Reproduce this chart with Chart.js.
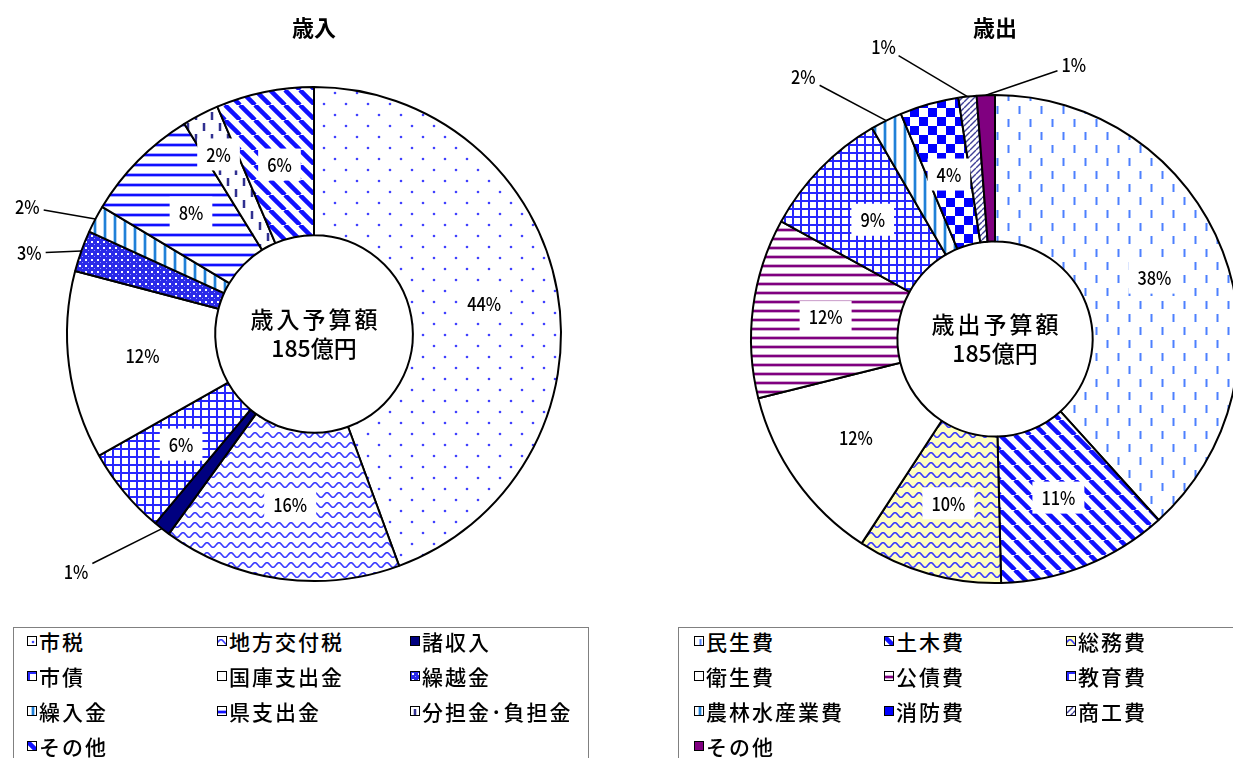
<!DOCTYPE html>
<html lang="ja">
<head>
<meta charset="utf-8">
<title>歳入・歳出</title>
<script src="https://cdn.jsdelivr.net/npm/chart.js@4.4.1/dist/chart.umd.min.js"></script>
<style>
  html, body { margin: 0; padding: 0; background: #fff; overflow: hidden; width: 1233px; height: 758px; }
  body { position: relative; font-family: "Noto Sans CJK JP", sans-serif; color: #000; }
  canvas.chart { position: absolute; top: 0; }
  #incomeChart { left: 0; }
  #expenseChart { left: 640px; }
  .legendBox { position: absolute; top: 627px; height: 200px; border: 1px solid #808080; box-sizing: border-box; }
  .legend { position: absolute; top: 623px; display: grid; grid-auto-rows: 35px; font-size: 21px; font-weight: 500; letter-spacing: 2px; }
  .legend div { display: flex; align-items: center; white-space: nowrap; }
  .legend canvas { width: 8px; height: 8px; border: 1.5px solid #000; margin-right: 2px; }
</style>
</head>
<body>
<canvas id="incomeChart" class="chart" width="630" height="610"></canvas>
<canvas id="expenseChart" class="chart" width="710" height="610"></canvas>
<div class="legendBox" style="left:13px;width:576px"></div>
<div class="legend" id="incomeLegend" style="left:27px;grid-template-columns:190px 193px auto"></div>
<div class="legendBox" style="left:678px;width:600px"></div>
<div class="legend" id="expenseLegend" style="left:694px;grid-template-columns:190px 182px auto"></div>
<script>
// budget totals (億円) and titles
var budgetTotal = 185;
var incomeTitle = '歳入';
var expenseTitle = '歳出';

// 歳入 shares (%), clockwise from 12 o'clock
var incomeLabels = ['市税', '地方交付税', '諸収入', '市債', '国庫支出金', '繰越金', '繰入金', '県支出金', '分担金･負担金', 'その他'];
var incomeShares = [44.4, 15.6, 1.1, 5.7, 12.3, 2.7, 1.8, 7.6, 2.4, 6.4];

// 歳出 shares (%)
var expenseLabels = ['民生費', '土木費', '総務費', '衛生費', '公債費', '教育費', '農林水産業費', '消防費', '商工費', 'その他'];
var expenseShares = [38.3, 11.3, 9.6, 11.9, 11.9, 8.6, 2.1, 3.9, 1.2, 1.2];

var labelFont = '500 19px "Noto Sans CJK JP", sans-serif';
var centerFont = '500 23px "Noto Sans CJK JP", sans-serif';
Chart.defaults.font.family = '"Noto Sans CJK JP", sans-serif';
Chart.defaults.color = '#000';

// small tiles for the hatched fills (Excel-like patterns)
function tile(w, h, draw) {
    var c = document.createElement('canvas');
    c.width = w; c.height = h;
    var g = c.getContext('2d');
    g.fillStyle = '#fff';
    g.fillRect(0, 0, w, h);
    draw(g, w, h);
    return g.createPattern(c, 'repeat');
}

function wave(bg) {
    return tile(12, 10, function (g, w, h) {
        g.fillStyle = bg; g.fillRect(0, 0, w, h);
        g.strokeStyle = '#3a3aff'; g.lineWidth = 1.6;
        g.beginPath();
        for (var x = -1; x <= 13; x += 0.5) {
            var y = 5 - 2.3 * Math.sin(2 * Math.PI * x / 12);
            if (x === -1) g.moveTo(x, y); else g.lineTo(x, y);
        }
        g.stroke();
    });
}

// vertical dashes, two staggered columns per tile
function dashes(w, h, len, color, lw) {
    return tile(w, h, function (g) {
        g.fillStyle = color;
        [[w / 4, 2], [w * 3 / 4, 2 + h / 2]].forEach(function (d) {
            g.fillRect(d[0] - lw / 2, d[1], lw, len);
            g.fillRect(d[0] - lw / 2, d[1] - h, lw, len);
        });
    });
}

var fills = {
    dots: tile(22, 22, function (g) {
        g.fillStyle = '#4040ff';
        [[5, 5], [16, 16]].forEach(function (p) {
            g.beginPath(); g.arc(p[0], p[1], 1.3, 0, Math.PI * 2); g.fill();
        });
    }),
    wave: wave('#fff'),
    waveYellow: wave('#ffffc0'),
    grid: tile(8, 8, function (g) {
        g.fillStyle = '#2828ff';
        g.fillRect(0, 0, 8, 2); g.fillRect(0, 0, 2, 8);
    }),
    plaid: tile(6, 6, function (g) {
        g.fillStyle = '#2a2ae8'; g.fillRect(0, 0, 6, 6);
        g.fillStyle = '#ffffff'; g.fillRect(1, 1, 2, 2);
        g.fillStyle = '#9a9aff'; g.fillRect(4, 4, 1, 1);
    }),
    vstripe: tile(10, 10, function (g) {
        g.fillStyle = '#b0d4f4'; g.fillRect(3, 0, 4, 10);
        g.fillStyle = '#2080d8'; g.fillRect(4, 0, 2, 10);
    }),
    hstripe: tile(10, 10, function (g) {
        g.fillStyle = '#a8a8ff'; g.fillRect(0, 3, 10, 4);
        g.fillStyle = '#1010ff'; g.fillRect(0, 4, 10, 2);
    }),
    purpleStripe: tile(9, 9, function (g) {
        g.fillStyle = '#d0a8d0'; g.fillRect(0, 3, 9, 4);
        g.fillStyle = '#800080'; g.fillRect(0, 4, 9, 2);
    }),
    vdash: dashes(16, 22, 8, '#303090', 2.5),
    dashes: dashes(22, 26, 8, '#4d80ff', 2),
    diag: tile(15, 15, function (g) {
        g.strokeStyle = '#1010ff'; g.lineWidth = 4.5;
        [-15, 0, 15].forEach(function (o) {
            g.beginPath(); g.moveTo(o, 0); g.lineTo(o + 15, 15); g.stroke();
        });
    }),
    checker: tile(18, 18, function (g) {
        g.fillStyle = '#0000ff';
        g.fillRect(0, 0, 9, 9); g.fillRect(9, 9, 9, 9);
    }),
    hatch: tile(6, 6, function (g) {
        g.strokeStyle = '#404098'; g.lineWidth = 1.4;
        [-6, 0, 6].forEach(function (o) {
            g.beginPath(); g.moveTo(o, 6); g.lineTo(o + 6, 0); g.stroke();
        });
    })
};

var incomeFills = [fills.dots, fills.wave, '#000080', fills.grid, '#ffffff', fills.plaid, fills.vstripe, fills.hstripe, fills.vdash, fills.diag];
var expenseFills = [fills.dashes, fills.diag, fills.waveYellow, '#ffffff', fills.purpleStripe, fills.grid, fills.vstripe, fills.checker, fills.hatch, '#800080'];

// narrow percentage text, like the original's gothic digits
function narrowText(ctx, text, x, y) {
    ctx.save();
    ctx.translate(x, y);
    ctx.scale(0.86, 1);
    ctx.fillText(text, 0, 0);
    ctx.restore();
}

// percentage labels, leader lines and centre text
function sliceLabels(cfg) {
    return {
        id: 'sliceLabels',
        afterDatasetsDraw: function (chart) {
            var ctx = chart.ctx;
            var values = chart.data.datasets[0].data;
            var total = values.reduce(function (a, b) { return a + b; }, 0);
            var arcs = chart.getDatasetMeta(0).data;
            ctx.save();
            ctx.font = labelFont;
            ctx.textAlign = 'center';
            ctx.textBaseline = 'middle';
            arcs.forEach(function (arc, i) {
                var p = arc.getProps(['x', 'y', 'startAngle', 'endAngle', 'innerRadius', 'outerRadius'], true);
                var mid = (p.startAngle + p.endAngle) / 2;
                var text = Math.round(values[i] / total * 100) + '%';
                var tw = ctx.measureText(text).width * 0.86;
                var out = cfg.callouts[i];
                if (out) {
                    var ax = p.x + Math.cos(mid) * p.outerRadius;
                    var ay = p.y + Math.sin(mid) * p.outerRadius;
                    var lx = ax + out[0], ly = ay + out[1];
                    var dx = ax - lx, dy = ay - ly;
                    var t = Math.min((tw / 2 + 4) / Math.max(Math.abs(dx), 0.01), 9 / Math.max(Math.abs(dy), 0.01));
                    ctx.strokeStyle = '#000';
                    ctx.lineWidth = 1.5;
                    ctx.beginPath();
                    ctx.moveTo(lx + dx * t, ly + dy * t);
                    ctx.lineTo(ax, ay);
                    ctx.stroke();
                    ctx.fillStyle = '#000';
                    narrowText(ctx, text, lx, ly);
                } else {
                    var r = (p.innerRadius + p.outerRadius) / 2;
                    var s = cfg.shift[i] || [0, 0];
                    var x = p.x + Math.cos(mid) * r + s[0];
                    var y = p.y + Math.sin(mid) * r + s[1];
                    ctx.fillStyle = '#fff';
                    ctx.fillRect(x - tw / 2 - 9, y - 16, tw + 18, 32);
                    ctx.fillStyle = '#000';
                    narrowText(ctx, text, x, y);
                }
            });
            ctx.font = centerFont;
            cfg.center.forEach(function (line, k) {
                ctx.letterSpacing = k === 0 ? '3px' : '0px';
                ctx.fillText(line, arcs[0].x + (k === 0 ? 1.5 : 0), arcs[0].y + (k - 0.5) * 29);
            });
            ctx.restore();
        }
    };
}

function makeDoughnut(id, title, labels, values, colors, padding, titleGap, cfg) {
    return new Chart(document.getElementById(id).getContext('2d'), {
        type: 'doughnut',
        data: {
            labels: labels,
            datasets: [{
                data: values,
                backgroundColor: colors,
                borderColor: '#000',
                borderWidth: 2
            }]
        },
        options: {
            responsive: false,
            animation: false,
            cutout: '40%',
            layout: { padding: padding },
            plugins: {
                legend: { display: false },
                tooltip: { enabled: false },
                title: {
                    display: true,
                    text: title,
                    font: { size: 22, weight: 'bold' },
                    color: '#000',
                    padding: { top: 14, bottom: titleGap }
                }
            }
        },
        plugins: [sliceLabels(cfg)]
    });
}

makeDoughnut('incomeChart', incomeTitle, incomeLabels, incomeShares, incomeFills,
    { left: 10, right: 12, top: 0, bottom: 28 }, 45.6,
    { callouts: { 2: [-86, 43], 5: [-52, 2], 6: [-68, -12] }, shift: { 8: [-16, -26] },
      center: ['歳入予算額', budgetTotal + '億円'] });

makeDoughnut('expenseChart', expenseTitle, expenseLabels, expenseShares, expenseFills,
    { left: 110, right: 110, top: 0, bottom: 26 }, 53.6,
    { callouts: { 6: [-83, -44], 8: [-84, -50], 9: [88, -30] }, shift: {},
      center: ['歳出予算額', budgetTotal + '億円'] });

// legends
function buildLegend(id, labels, colors) {
    var box = document.getElementById(id);
    labels.forEach(function (name, i) {
        var item = document.createElement('div');
        var sw = document.createElement('canvas');
        sw.width = 8; sw.height = 8;
        var g = sw.getContext('2d');
        g.fillStyle = colors[i];
        g.fillRect(0, 0, 8, 8);
        item.appendChild(sw);
        item.appendChild(document.createTextNode(name));
        box.appendChild(item);
    });
}
buildLegend('incomeLegend', incomeLabels, incomeFills);
buildLegend('expenseLegend', expenseLabels, expenseFills);
</script>
</body>
</html>
